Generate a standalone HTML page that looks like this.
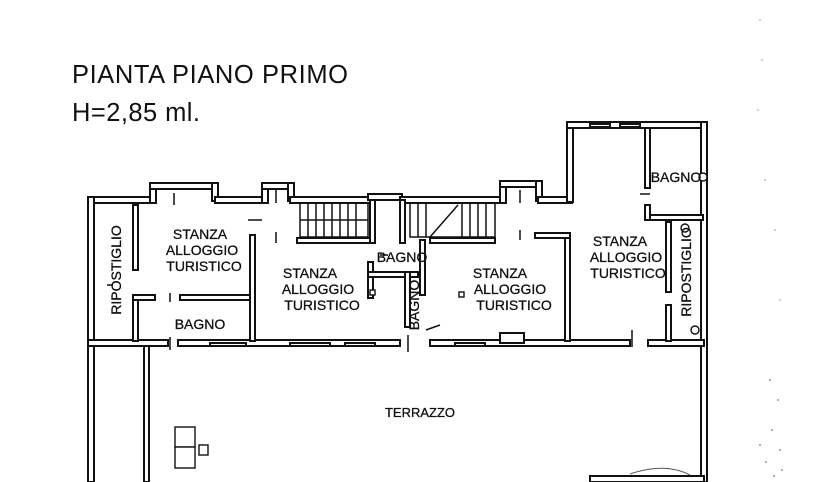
<!DOCTYPE html>
<html><head><meta charset="utf-8"><style>
html,body{margin:0;padding:0;background:#fff}
svg{display:block}
text{font-family:"Liberation Sans",sans-serif;fill:#111}
</style></head><body>
<svg width="826" height="482" viewBox="0 0 826 482" xmlns="http://www.w3.org/2000/svg">
<rect width="826" height="482" fill="#fff"/>
<text x="72" y="83" font-size="25.5" textLength="276">PIANTA PIANO PRIMO</text>
<text x="72" y="121" font-size="25.5" textLength="128">H=2,85 ml.</text>

<g fill="#fff" stroke="#111" stroke-width="2">
<rect x="88" y="197" width="64" height="6"/>
<rect x="150" y="183" width="6" height="20"/>
<rect x="150" y="183" width="66" height="6"/>
<rect x="212" y="183" width="6" height="18"/>
<rect x="215" y="197" width="48" height="6"/>
<rect x="262" y="183" width="6" height="20"/>
<rect x="262" y="183" width="28" height="6"/>
<rect x="288" y="183" width="6" height="18"/>
<rect x="290" y="197" width="80" height="6"/>
<rect x="368" y="194" width="34" height="6"/>
<rect x="400" y="197" width="102" height="6"/>
<rect x="500" y="181" width="6" height="22"/>
<rect x="500" y="181" width="40" height="6"/>
<rect x="536" y="181" width="6" height="20"/>
<rect x="538" y="197" width="34" height="6"/>
<rect x="567" y="122" width="6" height="80"/>
<rect x="567" y="122" width="139" height="6"/>
<rect x="701" y="122" width="6" height="360"/>
<rect x="88" y="197" width="6" height="285"/>
<rect x="144" y="343" width="5" height="139"/>
<rect x="88" y="340" width="80" height="6"/>
<rect x="178" y="340" width="222" height="6"/>
<rect x="430" y="340" width="200" height="6"/>
<rect x="648" y="340" width="56" height="6"/>
<rect x="210" y="343" width="36" height="3"/>
<rect x="290" y="343" width="40" height="3"/>
<rect x="345" y="343" width="30" height="3"/>
<rect x="455" y="343" width="30" height="3"/>
<rect x="500" y="333" width="24" height="10"/>
<rect x="590" y="124" width="20" height="3"/>
<rect x="620" y="124" width="20" height="3"/>
<rect x="133" y="205" width="5" height="65"/>
<rect x="133" y="295" width="5" height="46"/>
<rect x="133" y="295" width="22" height="5"/>
<rect x="180" y="295" width="72" height="5"/>
<rect x="250" y="235" width="5" height="106"/>
<rect x="297" y="238" width="75" height="5"/>
<rect x="370" y="200" width="5" height="43"/>
<rect x="400" y="200" width="5" height="43"/>
<rect x="430" y="238" width="65" height="5"/>
<rect x="368" y="262" width="5" height="36"/>
<rect x="368" y="272" width="50" height="5"/>
<rect x="405" y="272" width="5" height="55"/>
<rect x="420" y="240" width="5" height="55"/>
<rect x="565" y="233" width="5" height="108"/>
<rect x="535" y="233" width="35" height="5"/>
<rect x="645" y="128" width="5" height="60"/>
<rect x="645" y="215" width="58" height="5"/>
<rect x="645" y="205" width="5" height="15"/>
<rect x="666" y="222" width="5" height="70"/>
<rect x="666" y="305" width="5" height="36"/>
<rect x="590" y="476" width="114" height="6"/>
</g>
<g stroke="#111" stroke-width="1.5">
<rect x="300" y="203" width="68" height="34" fill="none"/>
<line x1="308" y1="203" x2="308" y2="237"/><line x1="316" y1="203" x2="316" y2="237"/>
<line x1="324" y1="203" x2="324" y2="237"/><line x1="332" y1="203" x2="332" y2="237"/>
<line x1="340" y1="203" x2="340" y2="237"/><line x1="348" y1="203" x2="348" y2="237"/>
<line x1="356" y1="203" x2="356" y2="237"/><line x1="300" y1="220" x2="368" y2="220"/>
<rect x="410" y="203" width="85" height="34" fill="none"/>
<line x1="418" y1="203" x2="418" y2="237"/><line x1="426" y1="203" x2="426" y2="237"/>
<line x1="462" y1="203" x2="462" y2="237"/><line x1="470" y1="203" x2="470" y2="237"/>
<line x1="478" y1="203" x2="478" y2="237"/><line x1="486" y1="203" x2="486" y2="237"/>
<line x1="430" y1="237" x2="458" y2="205"/>
<line x1="174" y1="193" x2="174" y2="205"/><line x1="276" y1="190" x2="276" y2="203"/>
<line x1="248" y1="220" x2="262" y2="220"/><line x1="276" y1="232" x2="276" y2="243"/>
<line x1="170" y1="293" x2="170" y2="302"/><line x1="170" y1="337" x2="170" y2="350"/>
<line x1="408" y1="335" x2="408" y2="352"/><line x1="426" y1="330" x2="440" y2="325"/>
<line x1="520" y1="190" x2="520" y2="203"/><line x1="520" y1="230" x2="520" y2="240"/>
<line x1="632" y1="330" x2="632" y2="347"/><line x1="640" y1="194" x2="650" y2="194"/>
<line x1="107" y1="285" x2="113" y2="285"/><line x1="380" y1="255" x2="388" y2="255"/>
</g>
<g fill="#fff" stroke="#111" stroke-width="1.4">
<rect x="370" y="290" width="5" height="5"/><rect x="459" y="292" width="5" height="5"/>
<circle cx="703" cy="177" r="4"/><circle cx="685" cy="228" r="4"/><circle cx="695" cy="330" r="4"/>
<rect x="175" y="427" width="20" height="20"/><rect x="175" y="447" width="20" height="21"/>
<rect x="199" y="445" width="9" height="10"/>
</g>
<path d="M630 474 Q665 462 690 475" fill="none" stroke="#555" stroke-width="1"/>

<g font-size="14" text-anchor="middle" stroke="#111" stroke-width="0.3">
<text x="200" y="239">STANZA</text><text x="202" y="255">ALLOGGIO</text><text x="204" y="271">TURISTICO</text>
<text x="310" y="278">STANZA</text><text x="318" y="294">ALLOGGIO</text><text x="322" y="310">TURISTICO</text>
<text x="500" y="278">STANZA</text><text x="510" y="294">ALLOGGIO</text><text x="514" y="310">TURISTICO</text>
<text x="620" y="246">STANZA</text><text x="626" y="262">ALLOGGIO</text><text x="628" y="278">TURISTICO</text>
<text x="200" y="329">BAGNO</text>
<text x="402" y="262">BAGNO</text>
<text x="676" y="182">BAGNO</text>
<text x="420" y="417" font-size="13">TERRAZZO</text>
<text transform="translate(121 270) rotate(-90)">RIPOSTIGLIO</text>
<text transform="translate(419 305) rotate(-90)">BAGNO</text>
<text transform="translate(691 272) rotate(-90)">RIPOSTIGLIO</text>
</g>
<g fill="#999">
<circle cx="760" cy="20" r="0.8"/><circle cx="762" cy="60" r="0.8"/><circle cx="758" cy="110" r="0.8"/>
<circle cx="765" cy="180" r="0.8"/><circle cx="775" cy="230" r="0.8"/><circle cx="780" cy="300" r="0.8"/>
<circle cx="770" cy="380" r="1"/><circle cx="778" cy="400" r="1"/><circle cx="772" cy="430" r="1"/>
<circle cx="780" cy="450" r="1"/><circle cx="766" cy="462" r="1"/><circle cx="782" cy="470" r="1"/>
<circle cx="774" cy="476" r="1"/><circle cx="760" cy="445" r="1"/>
</g>
</svg>
</body></html>
